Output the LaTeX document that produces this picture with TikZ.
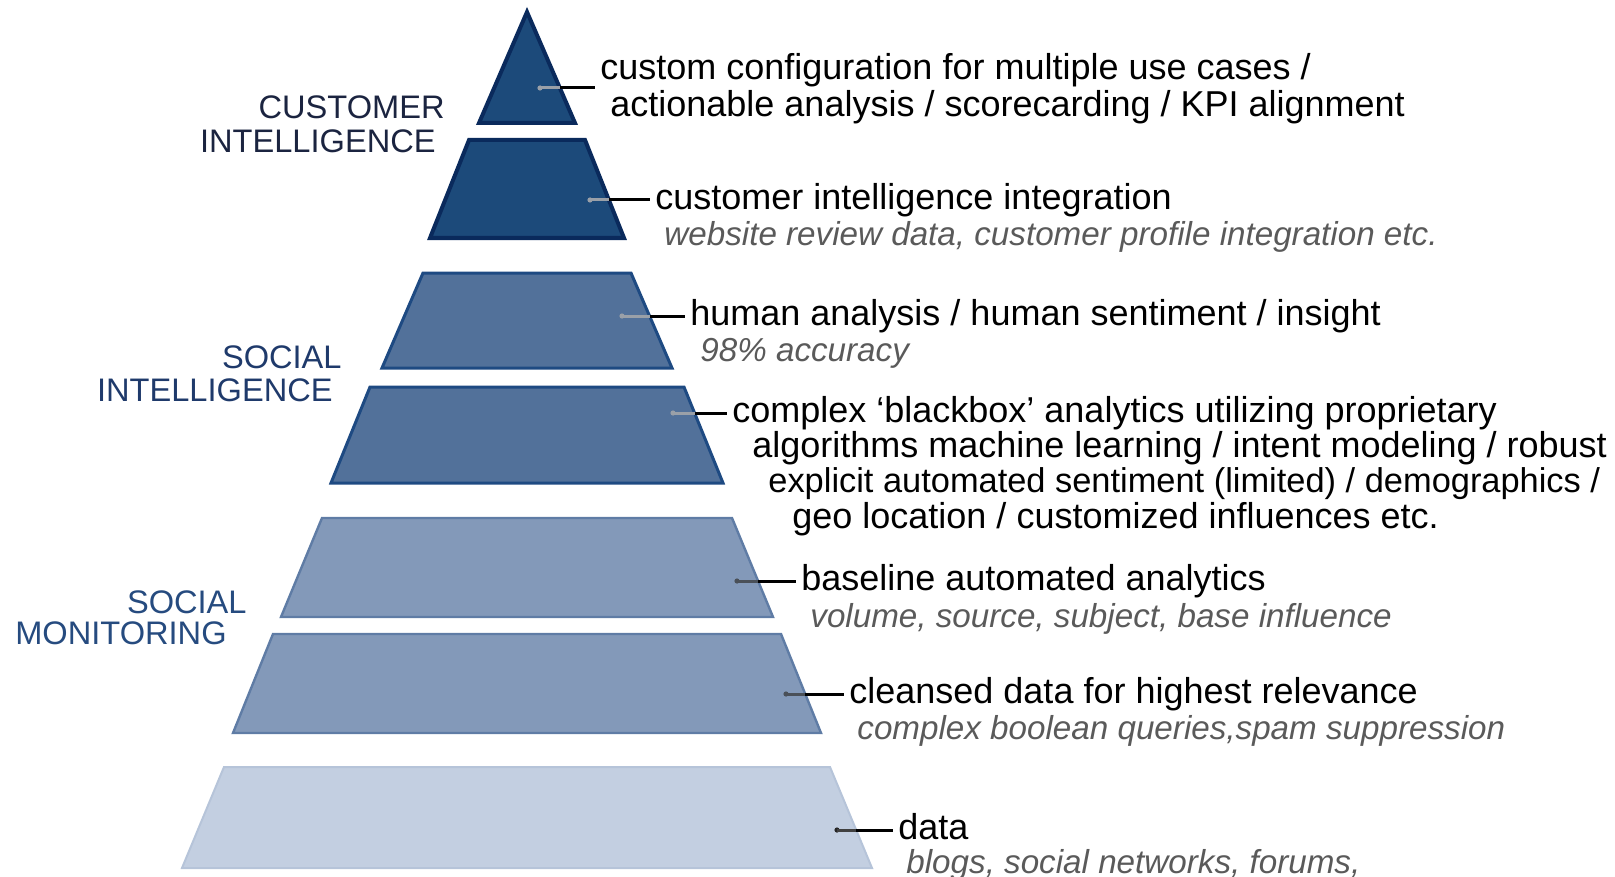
\documentclass[tikz,border=0pt]{standalone}
\usepackage{fontspec}
\setmainfont{Liberation Sans}
\usepackage{xcolor}
\usepackage{tikz}

\definecolor{navyfill}{HTML}{1C4A7A}
\definecolor{navyline}{HTML}{0A2A5C}
\definecolor{midfill}{HTML}{52719A}
\definecolor{midline}{HTML}{1E4A82}
\definecolor{softfill}{HTML}{8399B9}
\definecolor{softline}{HTML}{5F7CA5}
\definecolor{palefill}{HTML}{C3CFE1}
\definecolor{paleline}{HTML}{B6C4D9}
\definecolor{citext}{HTML}{1B2440}
\definecolor{sitext}{HTML}{1F3A6B}
\definecolor{smtext}{HTML}{264B7F}
\definecolor{subgray}{HTML}{5A5A5A}
\definecolor{dotlight}{HTML}{9AA0A8}
\definecolor{dotdark}{HTML}{4A5058}

\begin{document}
\begin{tikzpicture}[x=0.5pt, y=-0.5pt, line join=miter]
        % Define styles
        \tikzstyle{tiernavy} = [fill=navyfill, draw=navyline, line width=2pt]
        \tikzstyle{tiermid} = [fill=midfill, draw=midline, line width=1.5pt]
        \tikzstyle{tiersoft} = [fill=softfill, draw=softline, line width=1.2pt]
        \tikzstyle{tierpale} = [fill=palefill, draw=paleline, line width=1pt]
        \tikzstyle{dot} = [circle, inner sep=0pt, minimum size=2.6pt]
        \tikzstyle{stub} = [line width=1.5pt]
        \tikzstyle{lead} = [line width=1.5pt, black, shorten >=2.5pt]
        \tikzstyle{lbl} = [inner sep=0pt, anchor=west, font=\fontsize{18}{18}\selectfont, text height=13pt, text depth=3.8pt]
        \tikzstyle{more} = [inner sep=0pt, anchor=base west, font=\fontsize{18}{18}\selectfont]
        \tikzstyle{sub} = [inner sep=0pt, anchor=base west, text=subgray, font=\fontsize{16.6}{16.6}\selectfont\itshape]
        \tikzstyle{group} = [inner sep=0pt, anchor=base east, align=right]

        \useasboundingbox (0,0) rectangle (1615,877);

        % Pyramid tiers
        \draw [tiernavy] (527,12) -- (575,123) -- (479,123) -- cycle;
        \draw [tiernavy] (469,140) -- (585,140) -- (624,238) -- (430,238) -- cycle;
        \draw [tiermid] (423,273) -- (631,273) -- (672,368) -- (382,368) -- cycle;
        \draw [tiermid] (370,387) -- (684,387) -- (723,483) -- (331,483) -- cycle;
        \draw [tiersoft] (322,518) -- (732,518) -- (773,617) -- (281,617) -- cycle;
        \draw [tiersoft] (273,634) -- (781,634) -- (821,733) -- (233,733) -- cycle;
        \draw [tierpale] (224,767) -- (830,767) -- (872,868) -- (182,868) -- cycle;

        % Group labels (base = last line)
        \node (ci) [group, text=citext, font=\fontsize{16.3}{17}\selectfont] at (445,153) {CUSTOMER\\INTELLIGENCE\hspace*{4.5pt}};
        \node (si) [group, text=sitext, font=\fontsize{16.3}{16.5}\selectfont] at (342,401) {SOCIAL\\INTELLIGENCE\hspace*{4.5pt}};
        \node (sm) [group, text=smtext, font=\fontsize{16.3}{15.5}\selectfont] at (247,644) {SOCIAL\\MONITORING\hspace*{10pt}};

        % Dots and edge points
        \node (d1) [dot, fill=dotlight] at (540,88) {};
        \node (d2) [dot, fill=dotlight] at (590,200) {};
        \node (d3) [dot, fill=dotlight] at (622,316) {};
        \node (d4) [dot, fill=dotlight] at (673,413) {};
        \node (d5) [dot, fill=dotdark] at (737,581) {};
        \node (d6) [dot, fill=dotdark] at (786,694) {};
        \node (d7) [dot, fill=black!85] at (837,830) {};
        \coordinate (k1) at (560,88);
        \coordinate (k2) at (609,200);
        \coordinate (k3) at (650,316);
        \coordinate (k4) at (695,413);
        \coordinate (k5) at (758,581);
        \coordinate (k6) at (805,694);
        \coordinate (k7) at (856,830);

        % Texts
        \node (t1) [lbl] at (600,70) {custom configuration for multiple use cases /};
        \node (u1) [more] at ([xshift=5pt, yshift=-18.5pt]t1.base west) {actionable analysis / scorecarding / KPI alignment};

        \node (t2) [lbl] at (655,200) {customer intelligence integration};
        \node (s2) [sub] at ([xshift=4.5pt, yshift=-18pt]t2.base west) {website review data, customer profile integration etc.};

        \node (t3) [lbl] at (690,316) {human analysis / human sentiment / insight};
        \node (s3) [sub] at ([xshift=5pt, yshift=-18pt]t3.base west) {98\% accuracy};

        \node (t4) [lbl] at (732,413) {complex ‘blackbox’ analytics utilizing proprietary};
        \node (u4) [more] at ([xshift=10pt, yshift=-17.5pt]t4.base west) {algorithms machine learning / intent modeling / robust};
        \node (v4) [more, font=\fontsize{17.2}{17.2}\selectfont] at ([xshift=18pt, yshift=-35pt]t4.base west) {explicit automated sentiment (limited) / demographics /};
        \node (w4) [more] at ([xshift=30pt, yshift=-53pt]t4.base west) {geo location / customized influences etc.};

        \node (t5) [lbl] at (801,581) {baseline automated analytics};
        \node (s5) [sub] at ([xshift=4.5pt, yshift=-18.5pt]t5.base west) {volume, source, subject, base influence};

        \node (t6) [lbl] at (849,694) {cleansed data for highest relevance};
        \node (s6) [sub] at ([xshift=4pt, yshift=-18pt]t6.base west) {complex boolean queries,spam suppression};

        \node (t7) [lbl] at (898,830) {data};
        \node (s7) [sub] at ([xshift=4pt, yshift=-17pt]t7.base west) {blogs, social networks, forums,};

        % Connections
        \draw [stub, dotlight] (d1.center) -- (k1);
        \draw [lead] (k1) -- (k1 -| t1.west);
        \draw [stub, dotlight] (d2.center) -- (k2);
        \draw [lead] (k2) -- (t2.west);
        \draw [stub, dotlight] (d3.center) -- (k3);
        \draw [lead] (k3) -- (t3.west);
        \draw [stub, dotlight] (d4.center) -- (k4);
        \draw [lead] (k4) -- (t4.west);
        \draw [stub, dotdark] (d5.center) -- (k5);
        \draw [lead] (k5) -- (t5.west);
        \draw [stub, dotdark] (d6.center) -- (k6);
        \draw [lead] (k6) -- (t6.west);
        \draw [stub, black!75] (d7.center) -- (k7);
        \draw [lead] (k7) -- (t7.west);

\end{tikzpicture}
\end{document}
